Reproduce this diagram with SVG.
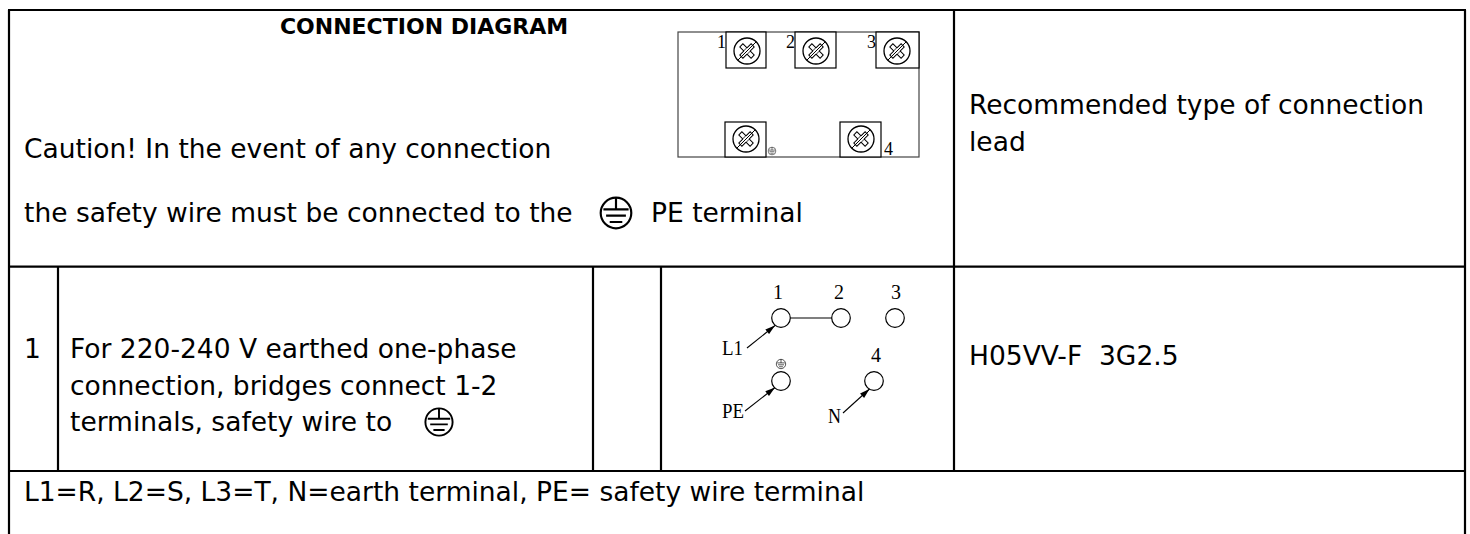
<svg xmlns="http://www.w3.org/2000/svg" xmlns:xlink="http://www.w3.org/1999/xlink" width="1470" height="534" viewBox="0 0 1470 534">
<style>
.t{font-family:"DejaVu Sans",Verdana,sans-serif;font-size:26.5px;fill:#000}
.b{font-family:"DejaVu Sans",Verdana,sans-serif;font-size:22px;font-weight:bold;fill:#000}
.s{font-family:"Liberation Serif","Times New Roman",serif;fill:#000}
.grid line{stroke:#000;stroke-width:2.2}
.term{fill:#fff;stroke:#000;stroke-width:1.2}
.wire{stroke:#000;stroke-width:1.1;fill:none}
</style>
<defs>
<symbol id="earth" viewBox="-20 -20 40 40" overflow="visible">
<circle r="17" fill="#fff" stroke="#000" stroke-width="2.4"/>
<path d="M0,-17V-4M-14,-4H14M-11,3H11M-7,10H7" stroke="#000" stroke-width="2.4" fill="none"/>
</symbol>
<g id="screw">
<circle r="13" fill="#fff" stroke="#000" stroke-width="1.3"/>
<g transform="rotate(45)" fill="#fff" stroke="#000" stroke-width="1">
<rect x="-8" y="-2.2" width="16" height="4.4"/>
<rect x="-2.2" y="-8" width="4.4" height="16"/>
<rect x="-2.1" y="-2.1" width="4.2" height="4.2" stroke="none"/>
</g>
<line x1="9.2" y1="-9.2" x2="-9.2" y2="9.2" stroke="#000" stroke-width="1"/>
</g>
<marker id="ah" viewBox="0 0 10 6" refX="10" refY="3" markerWidth="11" markerHeight="6" orient="auto" markerUnits="userSpaceOnUse">
<path d="M0,0L10,3L0,6z" fill="#000"/>
</marker>
</defs>
<rect width="1470" height="534" fill="#fff"/>

<g id="table-lines" class="grid">
<line x1="8" y1="10" x2="1466" y2="10"/>
<line x1="9" y1="10" x2="9" y2="534"/>
<line x1="1465" y1="10" x2="1465" y2="534"/>
<line x1="9" y1="266.7" x2="1465" y2="266.7"/>
<line x1="9" y1="471" x2="1465" y2="471"/>
<line x1="954" y1="10" x2="954" y2="471"/>
<line x1="58" y1="266.7" x2="58" y2="471"/>
<line x1="593" y1="266.7" x2="593" y2="471"/>
<line x1="661" y1="266.7" x2="661" y2="471"/>
</g>

<g id="title">
<text class="b" x="424" y="34" text-anchor="middle">CONNECTION DIAGRAM</text>
</g>

<g id="caution">
<text class="t" x="24" y="158">Caution! In the event of any connection</text>
<text class="t" x="24" y="222">the safety wire must be connected to the</text>
<use href="#earth" x="598" y="195" width="36" height="36"/>
<text class="t" x="651" y="222">PE terminal</text>
</g>

<g id="terminal-block">
<rect x="678" y="32" width="241" height="125" fill="#fff" stroke="#444" stroke-width="1.2"/>
<rect class="term" x="726" y="32" width="40" height="36"/>
<rect class="term" x="795" y="32" width="41" height="36"/>
<rect class="term" x="876" y="32" width="43" height="36"/>
<rect class="term" x="725" y="122" width="41" height="35"/>
<rect class="term" x="840" y="122" width="41" height="35"/>
<use href="#screw" x="747" y="51"/>
<use href="#screw" x="816" y="51"/>
<use href="#screw" x="897" y="51"/>
<use href="#screw" x="746" y="139"/>
<use href="#screw" x="861" y="139"/>
<use href="#earth" x="767.5" y="146.5" width="9" height="9"/>
<text class="s" x="717" y="48" font-size="18">1</text>
<text class="s" x="786" y="48" font-size="18">2</text>
<text class="s" x="867" y="48" font-size="18">3</text>
<text class="s" x="884" y="155" font-size="18">4</text>
</g>

<g id="lead-header">
<text class="t" x="969" y="114">Recommended type of connection</text>
<text class="t" x="969" y="151">lead</text>
</g>

<g id="row1-number">
<text class="t" x="24" y="358">1</text>
</g>

<g id="row1-text">
<text class="t" x="70" y="358">For 220-240 V earthed one-phase</text>
<text class="t" x="70" y="395">connection, bridges connect 1-2</text>
<text class="t" x="70" y="431">terminals, safety wire to</text>
<use href="#earth" x="423" y="406" width="32" height="32"/>
</g>

<g id="row1-diagram">
<circle cx="781" cy="318" r="9.3" class="term"/>
<circle cx="841" cy="318" r="9.3" class="term"/>
<circle cx="895" cy="318" r="9.3" class="term"/>
<circle cx="781" cy="381" r="9.3" class="term"/>
<circle cx="874" cy="381" r="9.3" class="term"/>
<use href="#earth" x="775.5" y="358.5" width="11" height="11"/>
<text class="s" x="778" y="299" font-size="20" text-anchor="middle">1</text>
<text class="s" x="839" y="299" font-size="20" text-anchor="middle">2</text>
<text class="s" x="896" y="299" font-size="20" text-anchor="middle">3</text>
<text class="s" x="876" y="362" font-size="20" text-anchor="middle">4</text>
<text class="s" x="722" y="355" font-size="22" textLength="21" lengthAdjust="spacingAndGlyphs">L1</text>
<text class="s" x="722" y="418" font-size="22" textLength="22" lengthAdjust="spacingAndGlyphs">PE</text>
<text class="s" x="828" y="423" font-size="22" textLength="13" lengthAdjust="spacingAndGlyphs">N</text>
</g>

<g id="connectors">
<line class="wire" x1="790.3" y1="318" x2="831.7" y2="318"/>
<line class="wire" x1="747" y1="348" x2="775" y2="325.5" marker-end="url(#ah)"/>
<line class="wire" x1="745" y1="411" x2="775" y2="387.5" marker-end="url(#ah)"/>
<line class="wire" x1="843" y1="413" x2="869.5" y2="389" marker-end="url(#ah)"/>
</g>

<g id="row1-lead">
<text class="t" x="969" y="365" xml:space="preserve">H05VV-F  3G2.5</text>
</g>

<g id="footer">
<text class="t" x="24" y="501">L1=R, L2=S, L3=T, N=earth terminal, PE= safety wire terminal</text>
</g>
</svg>
